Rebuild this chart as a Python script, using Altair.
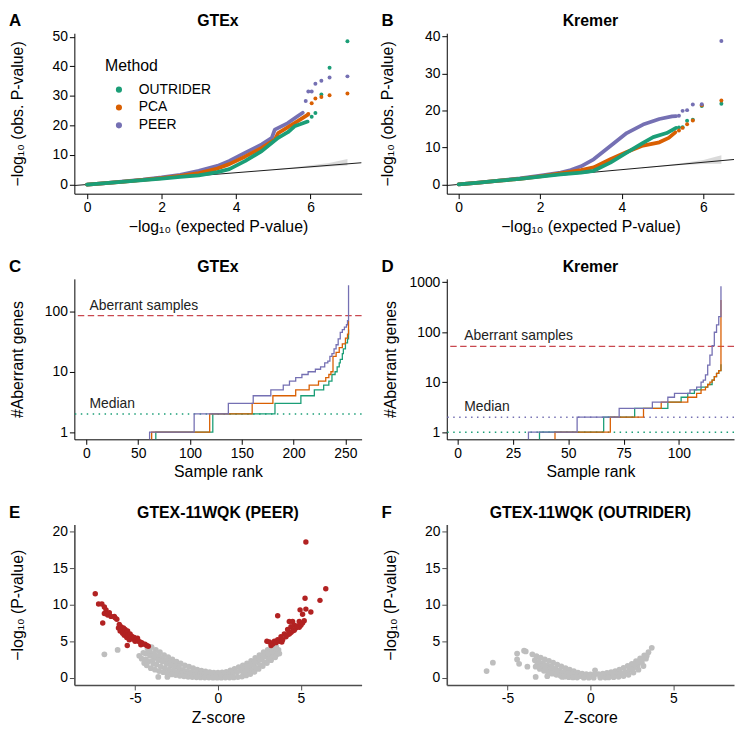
import altair as alt
import pandas as pd

FONT = "Liberation Sans"
METHODS = ["OUTRIDER", "PCA", "PEER"]
METHOD_COLORS = ["#1B9E77", "#D95F02", "#7570B3"]
SIG_COLOR = "#B22222"
NS_COLOR = "#BEBEBE"
ABERRANT_COLOR = "#C9484F"

# ---------------- Panel A: GTEx QQ ----------------
a_outrider_x = [0, 0.5, 1, 1.5, 2, 2.5, 3, 3.5, 3.82, 4.25, 4.69, 5.13, 5.39, 5.57, 5.92]
a_outrider_y = [0, 0.5, 1.0, 1.5, 2.0, 2.6, 3.1, 4.2, 5.2, 8.0, 11.3, 15.8, 17.7, 19.7, 21.3]
a_pca_x = [0, 0.5, 1, 1.5, 2, 2.5, 3, 3.5, 3.82, 4.25, 4.69, 5.04, 5.13, 5.57, 5.92]
a_pca_y = [0, 0.5, 1.0, 1.55, 2.2, 2.9, 3.9, 5.4, 6.9, 9.5, 12.4, 15.2, 17.4, 20.8, 23.6]
a_peer_x = [0, 0.5, 1, 1.5, 2, 2.5, 3, 3.5, 3.82, 4.25, 4.69, 4.96, 5.04, 5.39, 5.66, 5.79]
a_peer_y = [0, 0.5, 1.05, 1.65, 2.4, 3.3, 4.6, 6.3, 8.0, 10.8, 13.6, 15.8, 18.6, 20.8, 23.2, 24.3]
a_tail_outrider_x = [6.03, 6.13, 6.29, 6.51, 6.99]
a_tail_outrider_y = [22.9, 24.2, 30.5, 39.5, 48.5]
a_tail_pca_x = [5.94, 6.03, 6.13, 6.29, 6.51, 6.99]
a_tail_pca_y = [23.9, 27.5, 29.1, 29.6, 30.2, 30.8]
a_tail_peer_x = [5.87, 5.94, 6.03, 6.13, 6.29, 6.51, 6.99]
a_tail_peer_y = [28.3, 31.5, 31.5, 34.1, 35.1, 36.2, 36.6]
a_band_x = [5.0, 5.5, 6.0, 6.5, 6.99]
a_band_lo = [4.9, 5.3, 5.7, 6.1, 6.4]
a_band_hi = [5.15, 5.8, 6.5, 7.3, 8.6]
a_ref = [-0.34, 7.37]

# ---------------- Panel B: Kremer QQ ----------------
b_outrider_x = [0, 0.5, 1, 1.5, 2, 2.5, 3, 3.31, 3.72, 4.12, 4.52, 4.77, 5.1, 5.33]
b_outrider_y = [0, 0.5, 1.0, 1.5, 2.1, 2.7, 3.2, 3.7, 5.9, 8.6, 11.25, 12.8, 13.9, 15.3]
b_pca_x = [0, 0.5, 1, 1.5, 2, 2.5, 3, 3.31, 3.72, 4.12, 4.52, 4.92, 5.15, 5.31]
b_pca_y = [0, 0.5, 1.0, 1.5, 2.2, 3.0, 3.9, 4.6, 6.8, 8.75, 10.5, 11.4, 12.6, 14.1]
b_peer_x = [0, 0.5, 1, 1.5, 2, 2.5, 2.75, 3.0, 3.31, 3.72, 4.12, 4.52, 4.92, 5.23, 5.33]
b_peer_y = [0, 0.5, 1.05, 1.65, 2.4, 3.2, 3.9, 4.9, 6.8, 10.4, 13.9, 16.2, 17.7, 18.4, 18.5]
b_tail_outrider_x = [5.40, 5.49, 5.60, 5.74, 5.96, 6.44]
b_tail_outrider_y = [15.4, 15.5, 17.2, 17.5, 21.2, 21.8]
b_tail_pca_x = [5.40, 5.49, 5.60, 5.74, 5.96, 6.44]
b_tail_pca_y = [14.6, 15.3, 16.3, 17.3, 21.4, 22.7]
b_tail_peer_x = [5.40, 5.49, 5.60, 5.74, 5.96, 6.44]
b_tail_peer_y = [18.6, 19.9, 20.1, 21.6, 21.7, 38.8]
b_band_x = [4.5, 5.0, 5.5, 6.0, 6.44]
b_band_lo = [4.4, 4.85, 5.25, 5.55, 5.6]
b_band_hi = [4.6, 5.15, 5.8, 6.6, 7.9]
b_ref = [-0.29, 6.75]

# ---------------- Panel C: GTEx aberrant genes per sample ----------------
c_outrider_rank = [1, 67, 122, 182, 207, 220, 229, 234, 237, 240, 242, 244, 245, 247, 248, 250, 252, 253]
c_outrider_count = [0.5, 1, 2, 3, 4, 5, 6, 7, 9, 10, 12, 14, 16, 20, 24, 30, 35, 50]
c_pca_rank = [1, 63, 119, 160, 180, 202, 215, 224, 231, 234, 236, 238, 241, 244, 247, 250, 252, 253]
c_pca_count = [0.5, 1, 2, 3, 4, 5, 6, 7, 8, 9, 10, 18, 21, 25, 29, 36, 42, 69]
c_peer_rank = [1, 61, 104, 137, 161, 178, 190, 196, 202, 208, 214, 221, 226, 230, 233, 235, 237, 239, 241, 243, 245, 247, 249, 251, 252, 253]
c_peer_count = [0.5, 1, 2, 3, 4, 5, 6, 7, 8, 9, 10, 11, 12, 14, 15, 18, 20, 24, 28, 35, 45, 50, 55, 60, 70, 270]
c_median = [2, 2, 2]          # OUTRIDER, PCA, PEER
c_aberrant_cutoff = 85

# ---------------- Panel D: Kremer aberrant genes per sample ----------------
d_outrider_rank = [1, 37, 66, 80, 95, 101, 104, 107, 110, 113, 115, 116, 117, 118, 119]
d_outrider_count = [0.5, 1, 2, 3, 4, 5, 6, 7, 8, 9, 11, 13, 15, 17, 23]
d_pca_rank = [1, 44, 69, 84, 92, 104, 108, 110, 112, 113, 114, 115, 116, 117, 118, 119]
d_pca_count = [0.5, 1, 2, 3, 4, 5, 6, 7, 8, 9, 10, 11, 13, 15, 17, 440]
d_peer_rank = [1, 32, 54, 73, 88, 95, 98, 105, 108, 110, 111, 112, 113, 114, 115, 116, 117, 118, 119]
d_peer_count = [0.5, 1, 2, 3, 4, 5, 6, 7, 8, 10, 11, 14, 22, 35, 54, 100, 140, 206, 830]
d_median = [1, 1, 2]          # OUTRIDER, PCA, PEER
d_aberrant_cutoff = 52

# ---------------- Panel E: GTEX-11WQK (PEER) volcano ----------------
e_sig = [(-7.4, 11.5), (-7.2, 10.1), (-7.0, 10.1), (-6.85, 9.7), (-6.75, 9.3), (-6.85, 8.8),
         (-6.65, 8.6), (-6.95, 7.5), (-6.55, 8.9), (-6.45, 8.4), (-6.25, 8.4), (-6.2, 8.2),
         (-6.1, 8.0), (-6.0, 6.8), (-5.95, 7.3), (-5.9, 6.4), (-5.85, 7.0), (-5.8, 6.5),
         (-5.75, 6.1), (-5.7, 6.8), (-5.65, 5.8), (-5.6, 6.6), (-5.55, 6.2), (-5.5, 5.5),
         (-5.45, 6.4), (-5.4, 5.9), (-5.35, 5.2), (-5.3, 6.0), (-5.2, 5.7), (-5.15, 5.3),
         (-5.05, 5.5), (-5.0, 5.0), (-4.95, 5.2), (-4.85, 5.4), (-4.8, 5.0), (-4.7, 4.9),
         (-4.65, 4.5), (-4.6, 4.8), (-4.5, 4.6), (-4.4, 4.6), (-4.3, 4.4), (-4.2, 4.3),
         (-5.47, 4.4),
         (2.95, 5.0), (3.1, 4.9), (3.2, 4.4), (3.3, 4.6), (3.4, 5.0), (3.5, 4.8), (3.6, 8.5),
         (3.6, 5.2), (3.7, 5.0), (3.8, 5.6), (3.85, 4.9), (3.9, 5.2), (4.0, 6.0), (4.1, 5.6),
         (4.2, 6.6), (4.2, 5.9), (4.3, 6.0), (4.3, 7.7), (4.4, 7.0), (4.4, 6.2), (4.5, 6.4),
         (4.5, 7.7), (4.6, 7.2), (4.6, 6.5), (4.7, 6.8), (4.8, 7.1), (4.9, 7.7), (4.9, 6.9),
         (4.95, 9.3), (5.0, 7.2), (5.1, 7.5), (5.1, 8.7), (5.2, 7.8), (5.25, 10.9), (5.3, 9.4),
         (5.6, 9.0), (6.15, 10.6), (6.5, 12.2), (5.3, 18.6)]
e_ns = [(-6.85, 3.2), (-6.05, 3.8), (-3.6, 0.1), (-3.05, 0.1),
        (-4.75, 3.0), (-4.5, 3.4), (-4.25, 4.0), (-4.0, 4.2), (-3.75, 3.8), (-3.5, 3.5),
        (-3.25, 3.1), (-3.0, 2.8), (-2.75, 2.5), (-2.5, 2.2), (-2.25, 1.95), (-2.0, 1.7),
        (-1.75, 1.5), (-1.5, 1.3), (-1.25, 1.1), (-1.0, 0.95), (-0.75, 0.85), (-0.5, 0.75),
        (-0.25, 0.7), (0.0, 0.7), (0.25, 0.72), (0.5, 0.8), (0.75, 1.0), (1.0, 1.2),
        (1.25, 1.45), (1.5, 1.7), (1.75, 1.95), (2.0, 2.3), (2.25, 2.7), (2.5, 3.1),
        (2.75, 3.5), (3.0, 3.8), (3.25, 4.1), (3.5, 4.3),
        (-4.35, 3.3), (-4.1, 3.6), (-3.85, 3.3), (-3.6, 3.0), (-3.35, 2.7), (-3.1, 2.4),
        (-2.85, 2.15), (-2.6, 1.9), (-2.35, 1.6),
        (-4.6, 2.6), (-4.35, 2.5), (-4.1, 3.0), (-3.85, 2.7), (-3.6, 2.4), (-3.35, 2.2),
        (-3.1, 1.9), (-2.85, 1.7), (-2.6, 1.5), (-2.35, 1.25), (-2.1, 1.05), (-1.85, 0.9),
        (-1.6, 0.75), (-1.35, 0.6), (-1.1, 0.5), (-0.85, 0.4), (-0.6, 0.35), (-0.35, 0.35),
        (-0.1, 0.3), (0.15, 0.35), (0.4, 0.4), (0.65, 0.5), (0.9, 0.6), (1.15, 0.75),
        (1.4, 0.95), (1.65, 1.15), (1.9, 1.4), (2.15, 1.7), (2.4, 2.1), (2.65, 2.5),
        (2.9, 2.9), (3.15, 3.2), (3.4, 3.5), (3.65, 3.8),
        (1.5, 1.3), (1.75, 1.55), (2.0, 1.85), (2.25, 2.2), (2.5, 2.6), (2.75, 3.0),
        (3.0, 3.35), (3.25, 3.7), (3.5, 3.95),
        (-4.45, 2.0), (-4.2, 2.2), (-3.95, 2.3), (-3.9, 1.9), (-3.7, 1.8), (-3.45, 1.5),
        (-3.2, 1.3), (-2.95, 1.1), (-2.7, 0.95), (-2.45, 0.8), (-2.2, 0.6), (-1.95, 0.45),
        (-1.7, 0.35), (-1.45, 0.3), (-1.2, 0.25),
        (1.55, 0.55), (1.8, 0.75), (2.05, 1.0), (2.3, 1.35), (2.55, 1.7), (2.8, 2.1),
        (3.05, 2.5), (3.3, 2.85), (3.55, 3.2),
        (-4.3, 1.7), (-4.05, 1.3), (-3.8, 1.1), (-3.55, 0.9), (-3.3, 0.75), (-3.05, 0.6),
        (-2.8, 0.45), (-2.55, 0.35), (-2.3, 0.25), (-2.05, 0.18), (-1.8, 0.12), (-1.55, 0.08),
        (-1.3, 0.05), (-1.05, 0.03), (-0.8, 0.02), (-0.55, 0.01), (-0.3, 0.0), (-0.05, 0.0),
        (0.2, 0.0), (0.45, 0.01), (0.7, 0.02), (0.95, 0.04), (1.2, 0.08), (1.45, 0.15),
        (1.7, 0.3), (1.95, 0.5), (2.2, 0.8), (2.45, 1.2), (2.7, 1.6), (2.95, 2.0),
        (3.2, 2.4), (3.45, 2.8), (3.7, 3.3)]

# ---------------- Panel F: GTEX-11WQK (OUTRIDER) volcano ----------------
f_sig = []
f_ns = [(-6.26, 0.9), (-5.88, 2.05), (-4.42, 3.3), (-4.0, 3.7), (-3.9, 3.6), (-4.42, 2.5),
        (-4.3, 1.9), (-3.8, 1.5), (-3.3, 0.1), (-2.6, 0.2), (0.28, 1.0), (0.8, 0.35),
        (-1.7, 0.1),
        (-3.5, 3.2), (-3.25, 2.95), (-3.0, 2.75), (-2.75, 2.5), (-2.5, 2.3), (-2.25, 2.05),
        (-2.0, 1.8), (-1.75, 1.55), (-1.5, 1.3), (-1.25, 1.1), (-1.0, 0.9), (-0.75, 0.7),
        (-0.5, 0.55), (-0.25, 0.5), (0.0, 0.45), (0.25, 0.45), (0.5, 0.5), (0.75, 0.55),
        (1.0, 0.65), (1.25, 0.75), (1.5, 0.9), (1.75, 1.1), (2.0, 1.35), (2.25, 1.6),
        (2.5, 1.9), (2.75, 2.25), (3.0, 2.65), (3.25, 3.05), (3.5, 3.5), (3.7, 4.1),
        (-3.35, 2.4), (-3.1, 2.2), (-2.85, 1.95), (-2.6, 1.7), (-2.35, 1.5), (-2.1, 1.25),
        (-1.85, 1.0), (-1.6, 0.8), (-1.35, 0.6), (-1.1, 0.45), (-0.85, 0.3), (-0.6, 0.2),
        (-0.35, 0.15), (0.6, 0.15), (0.85, 0.2), (1.1, 0.28), (1.35, 0.35), (1.6, 0.45),
        (1.85, 0.6), (2.1, 0.8), (2.35, 1.05), (2.6, 1.35), (2.85, 1.7), (3.1, 2.1),
        (3.35, 2.6),
        (2.4, 1.5), (2.65, 1.8), (2.9, 2.2), (3.15, 2.6), (3.4, 3.0),
        (-3.2, 1.85), (-2.95, 1.55), (-2.7, 1.3), (-2.45, 1.1), (-2.2, 0.9), (-1.95, 0.7),
        (-1.7, 0.5), (-1.45, 0.35),
        (-3.3, 1.5), (-3.05, 1.2), (-2.8, 0.95), (-2.55, 0.75), (-2.3, 0.55), (-2.05, 0.4),
        (-1.8, 0.25), (-1.55, 0.13), (-1.3, 0.06), (-1.05, 0.03), (-0.8, 0.01), (-0.4, 0.0),
        (-0.1, 0.0), (0.2, 0.0), (0.6, 0.0), (0.9, 0.01), (1.1, 0.03), (1.4, 0.06),
        (1.7, 0.12), (2.0, 0.22), (2.3, 0.4), (2.6, 0.7), (2.9, 1.1), (3.2, 1.6)]

W, H = 290, 162
TITLE_Y = -12


def method_color(legend=None):
    return alt.Color("method:N", scale=alt.Scale(domain=METHODS, range=METHOD_COLORS), legend=legend)


def header_layers(letter, title):
    letter_layer = alt.Chart(pd.DataFrame({"t": [letter]})).mark_text(
        align="left", baseline="middle", font=FONT, fontSize=17, fontWeight="bold",
        color="black", x=-66, y=TITLE_Y).encode(text="t:N")
    title_layer = alt.Chart(pd.DataFrame({"t": [title]})).mark_text(
        align="center", baseline="middle", font=FONT, fontSize=16, fontWeight="bold",
        color="black", x=W / 2, y=TITLE_Y).encode(text="t:N")
    return [letter_layer, title_layer]


def long_df(series):
    rows = []
    for m, (xs, ys) in series.items():
        for x, y in zip(xs, ys):
            rows.append({"method": m, "x": x, "y": y})
    return pd.DataFrame(rows)


def qq_panel(curves, tails, band, ref, xdom, ydom, yticks, title, letter, legend, ytitle_x):
    xs = alt.Scale(domain=xdom, nice=False, zero=False)
    ys = alt.Scale(domain=ydom, nice=False, zero=False)
    xaxis = alt.Axis(values=[0, 2, 4, 6], title="−log₁₀ (expected P-value)",
                     titleY=33, titleBaseline="middle")
    yaxis = alt.Axis(values=yticks, title="−log₁₀ (obs. P-value)",
                     titleX=ytitle_x, titleBaseline="middle")
    X = alt.X("x:Q", scale=xs, axis=xaxis)
    Y = alt.Y("y:Q", scale=ys, axis=yaxis)
    tdf = long_df(tails)
    # tail points first: carries the legend (lines have none)
    layers = [alt.Chart(tdf).mark_circle(size=16, opacity=1).encode(
        x=X, y=Y, color=method_color(legend))]
    band_df = pd.DataFrame({"x": band[0], "lo": band[1], "hi": band[2]})
    layers.append(alt.Chart(band_df).mark_area(color="#D4D4D4", opacity=0.85).encode(
        x=X, y=alt.Y("lo:Q", scale=ys, axis=yaxis), y2="hi:Q"))
    ref_df = pd.DataFrame({"x": ref, "y": ref})
    layers.append(alt.Chart(ref_df).mark_line(color="#1a1a1a", strokeWidth=1, clip=True).encode(x=X, y=Y))
    cdf = long_df(curves)
    for m in ["PEER", "PCA", "OUTRIDER"]:
        layers.append(alt.Chart(cdf[cdf.method == m]).mark_line(
            strokeWidth=3.8, strokeCap="round", strokeJoin="round").encode(
            x=X, y=Y, color=method_color(None)))
    layers += header_layers(letter, title)
    return alt.layer(*layers).properties(width=W, height=H)


def rank_panel(lines, medians, cutoff, xdom, ydom, xticks, yticks, title, letter):
    xs = alt.Scale(domain=xdom, nice=False, zero=False)
    ys = alt.Scale(type="log", domain=ydom, nice=False)
    X = alt.X("x:Q", scale=xs, axis=alt.Axis(values=xticks, title="Sample rank",
                                             titleY=33, titleBaseline="middle"))
    Y = alt.Y("y:Q", scale=ys, axis=alt.Axis(values=yticks, format="d", title="#Aberrant genes",
                                             titleX=-57, titleBaseline="middle"))
    cut_df = pd.DataFrame({"y": [cutoff]})
    layers = [
        alt.Chart(cut_df).mark_rule(color=ABERRANT_COLOR, strokeDash=[6.5, 3.5], strokeWidth=1.3).encode(y=Y),
    ]
    # median lines: drawn PEER, PCA, OUTRIDER; a value shared by several is drawn once (top one)
    draw_order = ["PEER", "PCA", "OUTRIDER"]
    med = dict(zip(METHODS, medians))
    shown = {}
    for m in draw_order:
        shown[med[m]] = m
    med_df = pd.DataFrame({"method": list(shown.values()), "y": list(shown.keys())})
    layers.append(alt.Chart(med_df).mark_rule(strokeDash=[1.5, 4.5], strokeWidth=1.5).encode(
        y=Y, color=method_color(None)))
    ldf = long_df(lines)
    for m in ["OUTRIDER", "PCA", "PEER"]:
        layers.append(alt.Chart(ldf[ldf.method == m]).mark_line(
            interpolate="step-after", strokeWidth=1.3, clip=True).encode(
            x=X, y=Y, color=method_color(None)))
    txt_df = pd.DataFrame({"x": [3, 3], "y": [cutoff, max(medians)],
                           "label": ["Aberrant samples", "Median"]})
    layers.append(alt.Chart(txt_df).mark_text(
        align="left", baseline="bottom", dy=-3, font=FONT, fontSize=14, color="#222222").encode(
        x=X, y=Y, text="label:N"))
    layers += header_layers(letter, title)
    return alt.layer(*layers).properties(width=W, height=H)


def volcano_panel(ns, sig, title, letter):
    xs = alt.Scale(domain=[-8.66, 8.66], nice=False, zero=False)
    ys = alt.Scale(domain=[-1, 21], nice=False, zero=False)
    X = alt.X("z:Q", scale=xs, axis=alt.Axis(
        values=[-5, 0, 5], title="Z-score", titleY=33, titleBaseline="middle",
        labelExpr="datum.value < 0 ? '-' + abs(datum.value) : '' + datum.value",
        domainColor="#4D4D4D", tickColor="#4D4D4D", domainWidth=1.6))
    Y = alt.Y("p:Q", scale=ys, axis=alt.Axis(
        values=[0, 5, 10, 15, 20], title="−log₁₀ (P-value)", titleX=-57, titleBaseline="middle",
        domainColor="#4D4D4D", tickColor="#4D4D4D", domainWidth=1.6))
    ns_df = pd.DataFrame(ns, columns=["z", "p"])
    layers = [alt.Chart(ns_df).mark_circle(size=34, color=NS_COLOR, opacity=1).encode(x=X, y=Y)]
    if sig:
        sig_df = pd.DataFrame(sig, columns=["z", "p"])
        layers.append(alt.Chart(sig_df).mark_circle(size=30, color=SIG_COLOR, opacity=1).encode(x=X, y=Y))
    layers += header_layers(letter, title)
    return alt.layer(*layers).properties(width=W, height=H)


legend_a = alt.Legend(title="Method", orient="none", legendX=31, legendY=25, symbolType="circle",
                      symbolSize=22, symbolOffset=7, labelOffset=13, rowPadding=4, titlePadding=9,
                      labelFontSize=14, titleFontSize=16, titleFontWeight="normal",
                      labelFont=FONT, titleFont=FONT, labelColor="black", titleColor="black")

panel_a = qq_panel(
    {"OUTRIDER": (a_outrider_x, a_outrider_y), "PCA": (a_pca_x, a_pca_y), "PEER": (a_peer_x, a_peer_y)},
    {"OUTRIDER": (a_tail_outrider_x, a_tail_outrider_y), "PCA": (a_tail_pca_x, a_tail_pca_y),
     "PEER": (a_tail_peer_x, a_tail_peer_y)},
    (a_band_x, a_band_lo, a_band_hi), a_ref, [-0.34, 7.37], [-3.1, 51.2],
    [0, 10, 20, 30, 40, 50], "GTEx", "A", legend_a, -57)

panel_b = qq_panel(
    {"OUTRIDER": (b_outrider_x, b_outrider_y), "PCA": (b_pca_x, b_pca_y), "PEER": (b_peer_x, b_peer_y)},
    {"OUTRIDER": (b_tail_outrider_x, b_tail_outrider_y), "PCA": (b_tail_pca_x, b_tail_pca_y),
     "PEER": (b_tail_peer_x, b_tail_peer_y)},
    (b_band_x, b_band_lo, b_band_hi), b_ref, [-0.29, 6.75], [-2.5, 40.9],
    [0, 10, 20, 30, 40], "Kremer", "B", None, -60)

panel_c = rank_panel(
    {"OUTRIDER": (c_outrider_rank, c_outrider_count), "PCA": (c_pca_rank, c_pca_count),
     "PEER": (c_peer_rank, c_peer_count)},
    c_median, c_aberrant_cutoff, [-11.6, 265.6], [0.76, 345], [0, 50, 100, 150, 200, 250],
    [1, 10, 100], "GTEx", "C")

panel_d = rank_panel(
    {"OUTRIDER": (d_outrider_rank, d_outrider_count), "PCA": (d_pca_rank, d_pca_count),
     "PEER": (d_peer_rank, d_peer_count)},
    d_median, d_aberrant_cutoff, [-4.9, 124.9], [0.72, 1170], [0, 25, 50, 75, 100],
    [1, 10, 100, 1000], "Kremer", "D")

panel_e = volcano_panel(e_ns, e_sig, "GTEX-11WQK (PEER)", "E")
panel_f = volcano_panel(f_ns, f_sig, "GTEX-11WQK (OUTRIDER)", "F")

chart = alt.concat(
    panel_a, panel_b, panel_c, panel_d, panel_e, panel_f,
    columns=2, spacing={"row": 86, "column": 86}, bounds="flush"
).resolve_scale(
    color="independent", x="independent", y="independent"
).properties(
    padding={"left": 1, "top": 1, "right": 1, "bottom": 1}
).configure_axis(
    labelFont=FONT, titleFont=FONT, labelFontSize=14, titleFontSize=16,
    labelColor="black", titleColor="black", domainColor="black", tickColor="black",
    domainWidth=1, tickWidth=1, tickSize=5, labelPadding=2, grid=False, titleFontWeight="normal"
).configure_view(stroke=None)

chart.save("out.html", embed_options={"renderer": "svg", "actions": False})
